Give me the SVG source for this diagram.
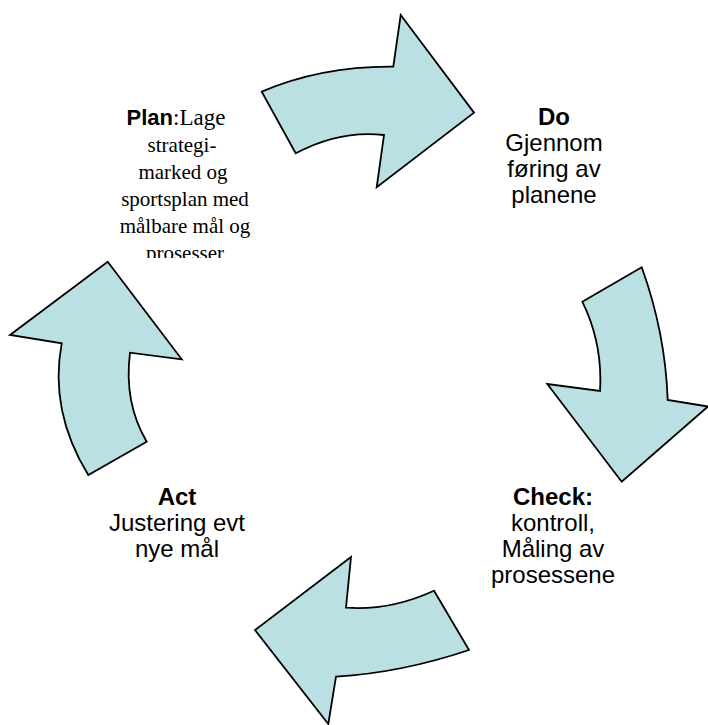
<svg xmlns="http://www.w3.org/2000/svg" width="708" height="725" viewBox="0 0 708 725">
<style>
.arrow{fill:#BBE0E3;stroke:#000;stroke-width:1.8;stroke-linejoin:miter}
.sans{font-family:"Liberation Sans",Arial,sans-serif;font-size:24px;fill:#000;text-anchor:middle}
.b{font-weight:bold}
.serif{font-family:"Liberation Serif","Times New Roman",serif;font-size:21px;fill:#000;text-anchor:middle}
.bs{font-family:"Liberation Sans",Arial,sans-serif;font-weight:bold;font-size:22px}
</style>
<defs>
<clipPath id="planclip"><rect x="100" y="95" width="180" height="163"/></clipPath>
</defs>
<g id="connectors">
<path id="arrow-plan-do" class="arrow" d="M261.7,91.7 Q322,66 393.3,66.7 L400.7,15 L474,112.7 L376.7,187.3 L384,135 Q340,129.8 295.7,153.3 Z"/>
<path id="arrow-do-check" class="arrow" d="M582.3,301.7 L641.7,267.3 Q665.3,332.4 667.7,400 L708,406.5 L621.7,481.7 L547.3,384 L600,391 Q602.9,343.7 582.3,301.7 Z"/>
<path id="arrow-check-act" class="arrow" d="M351,557 L346,607.7 Q390,610.8 434,590.7 L469,650 Q401.5,672.7 336,676.7 L328.3,724 L255,630 Z"/>
<path id="arrow-act-plan" class="arrow" d="M107.7,261.7 L181.7,359.3 L130,352.7 Q123.7,402.8 146.7,441.7 L88.3,475 Q49,410.9 61.7,343.3 L10,335 Z"/>
</g>
<g id="plan">
<g clip-path="url(#planclip)">
<text class="serif" x="176" y="125" style="font-size:23px"><tspan class="bs">Plan</tspan>:Lage</text>
<text class="serif" x="182" y="152">strategi-</text>
<text class="serif" x="183" y="179">marked og</text>
<text class="serif" x="185" y="206">sportsplan med</text>
<text class="serif" x="185" y="233">målbare mål og</text>
<text class="serif" x="185" y="260">prosesser</text>
</g>
</g>
<g id="do">
<text class="sans b" x="554" y="125">Do</text>
<text class="sans" x="554" y="151">Gjennom</text>
<text class="sans" x="554" y="177">føring av</text>
<text class="sans" x="554" y="203">planene</text>
</g>
<g id="check">
<text class="sans b" x="553" y="505">Check:</text>
<text class="sans" x="553" y="531">kontroll,</text>
<text class="sans" x="553" y="557">Måling av</text>
<text class="sans" x="553" y="583">prosessene</text>
</g>
<g id="act">
<text class="sans b" x="177" y="505">Act</text>
<text class="sans" x="177" y="531">Justering evt</text>
<text class="sans" x="177" y="557">nye mål</text>
</g>
</svg>
